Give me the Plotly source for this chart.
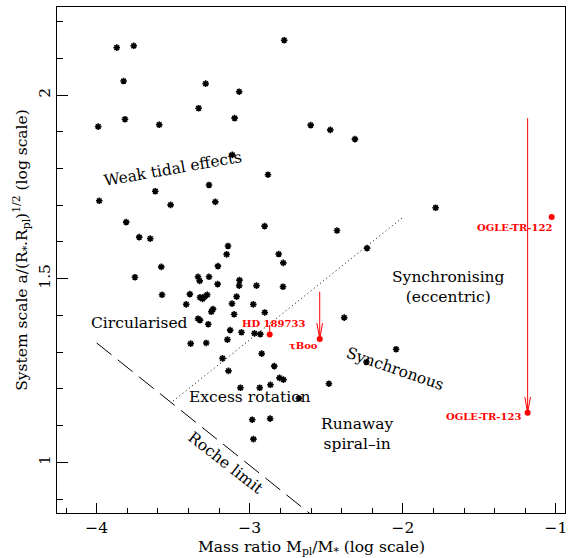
import plotly.graph_objects as go

# ---------------- data (log10 values) ----------------
planet_logq = [
    -3.869, -3.758, -3.824, -3.288, -3.069, -3.334, -3.099, -3.815, -3.990, -3.591,
    -3.114, -2.775, -2.602, -2.474, -2.313, -3.266, -3.617, -3.983, -3.225, -3.517,
    -3.807, -3.722, -3.650, -3.142, -3.151, -3.208, -3.578, -3.750, -3.338, -3.327,
    -3.266, -3.210, -3.067, -3.069, -2.956, -2.783, -2.881, -2.903, -2.430, -2.234,
    -2.811, -2.781, -1.786, -3.573, -3.391, -3.325, -3.308, -3.295, -3.278, -3.086,
    -3.415, -3.116, -2.977, -3.240, -3.251, -2.902, -3.102, -3.338, -3.325, -3.271,
    -3.128, -3.054, -2.969, -2.931, -3.146, -3.386, -3.284, -2.922, -3.178, -3.139,
    -2.840, -2.806, -2.780, -3.061, -2.935, -2.865, -2.984, -2.867, -2.976, -2.679,
    -2.383, -2.044, -2.483, -2.238,
]
planet_loga = [
    2.129, 2.134, 2.038, 2.031, 2.009, 1.964, 1.937, 1.934, 1.914, 1.919,
    1.837, 2.149, 1.918, 1.905, 1.880, 1.755, 1.738, 1.712, 1.709, 1.701,
    1.654, 1.613, 1.609, 1.589, 1.566, 1.534, 1.532, 1.504, 1.505, 1.494,
    1.505, 1.485, 1.496, 1.481, 1.481, 1.478, 1.783, 1.643, 1.631, 1.583,
    1.567, 1.543, 1.693, 1.456, 1.458, 1.449, 1.445, 1.451, 1.456, 1.451,
    1.430, 1.432, 1.430, 1.417, 1.410, 1.408, 1.403, 1.391, 1.387, 1.376,
    1.360, 1.354, 1.351, 1.349, 1.334, 1.323, 1.325, 1.296, 1.283, 1.249,
    1.262, 1.230, 1.225, 1.203, 1.203, 1.211, 1.116, 1.119, 1.063, 1.174,
    1.394, 1.308, 1.214, 1.273,
]

# highlighted systems
special_names = ["HD 189733", "\u03c4Boo", "OGLE-TR-122", "OGLE-TR-123"]
special_logq = [-2.870, -2.543, -1.028, -1.185]
special_loga = [1.348, 1.336, 1.668, 1.135]
# upper end of the vertical red bars (None = no bar)
special_bar_top = [1.374, 1.4645, None, 1.937]
special_has_head = [False, True, False, True]

# boundary lines
sync_line_x = [-3.5, -2.0]
sync_line_y = [1.167, 1.667]
roche_line_x = [-4.0, -2.6]
roche_line_y = [1.325, 0.858]

# region labels
region_text = ["Weak tidal effects", "Circularised", "Excess rotation",
               "Runaway<br>spiral\u2013in", "Synchronising<br>(eccentric)",
               "Synchronous", "Roche limit"]
region_x = [-3.502, -3.717, -3.000, -2.302, -1.703, -2.051, -3.157]
region_y = [1.799, 1.378, 1.178, 1.077, 1.4765, 1.254, 0.9994]
region_angle = [-10, 0, 0, 0, 0, 19, 38]

x_range = [-4.259, -0.941]
y_range = [0.862, 2.2396]
x_ticks = [-4, -3, -2, -1]
y_ticks = [1, 1.5, 2]
y_tick_text = ["1", "1.5", "2"]

x_title = "Mass ratio M<sub>pl</sub>/M<sub>*</sub> (log scale)"
y_title = "System scale a/(R<sub>*</sub>.R<sub>pl</sub>)<sup>1/2</sup> (log scale)"

# ---------------- styles ----------------
SERIF = "DejaVu Serif"
RED = "#ff0000"
HEAD_DX = 0.0185   # arrow-head half width (x data units)
HEAD_DY = 0.043    # arrow-head length (y data units)

fig = go.Figure()

fig.add_trace(go.Scatter(
    x=sync_line_x, y=sync_line_y, mode="lines",
    line=dict(color="black", width=1, dash="1px,3px"), hoverinfo="skip"))
fig.add_trace(go.Scatter(
    x=roche_line_x, y=roche_line_y, mode="lines",
    line=dict(color="black", width=1, dash="19px,8px"), hoverinfo="skip"))

fig.add_trace(go.Scatter(
    x=planet_logq, y=planet_loga, mode="markers",
    marker=dict(symbol="asterisk", size=5.5, color="black",
                line=dict(color="black", width=1.6)),
    hoverinfo="skip"))

# red bars and arrow heads
for xq, ya, top, head in zip(special_logq, special_loga, special_bar_top, special_has_head):
    if top is None:
        continue
    fig.add_trace(go.Scatter(x=[xq, xq], y=[top, ya], mode="lines",
                             line=dict(color=RED, width=1), hoverinfo="skip"))
    if head:
        fig.add_trace(go.Scatter(
            x=[xq - HEAD_DX, xq, xq + HEAD_DX], y=[ya + HEAD_DY, ya, ya + HEAD_DY],
            mode="lines", line=dict(color=RED, width=1), hoverinfo="skip"))

fig.add_trace(go.Scatter(
    x=special_logq, y=special_loga, mode="markers",
    marker=dict(symbol="circle", size=6, color=RED), hoverinfo="skip"))

label_style = [
    dict(xanchor="center", xshift=4, yshift=11),
    dict(xanchor="right", xshift=0, yshift=-7),
    dict(xanchor="right", xshift=2, yshift=-11),
    dict(xanchor="right", xshift=-5, yshift=-4),
]
for name, xq, ya, st in zip(special_names, special_logq, special_loga, label_style):
    fig.add_annotation(x=xq, y=ya, text="<b>%s</b>" % name, showarrow=False,
                       font=dict(family="DejaVu Serif", size=10, color=RED),
                       yanchor="middle", **st)

for t, xx, yy, ang in zip(region_text, region_x, region_y, region_angle):
    fig.add_annotation(x=xx, y=yy, text=t, showarrow=False, textangle=ang,
                       font=dict(family=SERIF, size=15.5, color="black"),
                       xanchor="center", yanchor="middle")

# axis titles as paper-anchored annotations
fig.add_annotation(xref="paper", yref="paper", x=0.5, y=-0.070, text=x_title,
                   showarrow=False, xanchor="center", yanchor="middle",
                   font=dict(family=SERIF, size=15.5, color="black"))
fig.add_annotation(xref="paper", yref="paper", x=-0.069, y=0.52, text=y_title,
                   showarrow=False, xanchor="center", yanchor="middle", textangle=-90,
                   font=dict(family=SERIF, size=15.5, color="black"))

axis_common = dict(showline=True, linecolor="black", linewidth=1, mirror=True,
                   showgrid=False, zeroline=False, ticks="inside",
                   tickcolor="black", tickwidth=1, automargin=False,
                   tickfont=dict(family=SERIF, size=15.5, color="black"))

fig.update_xaxes(range=x_range, tickvals=x_ticks, ticklen=10,
                 minor=dict(dtick=0.2, tick0=0, ticks="inside", ticklen=5,
                            tickcolor="black", tickwidth=1),
                 **axis_common)
fig.update_yaxes(range=y_range, tickvals=y_ticks, ticktext=y_tick_text,
                 tickangle=-90, ticklen=11,
                 minor=dict(dtick=0.1, tick0=0, ticks="inside", ticklen=6,
                            tickcolor="black", tickwidth=1),
                 **axis_common)

fig.update_layout(width=568, height=558, showlegend=False,
                  margin=dict(l=57, r=3, t=7, b=45),
                  paper_bgcolor="white", plot_bgcolor="white")

fig.write_html("out.html", config={"displayModeBar": False},
               post_script="document.body.style.margin='0';document.body.style.padding='0';")
